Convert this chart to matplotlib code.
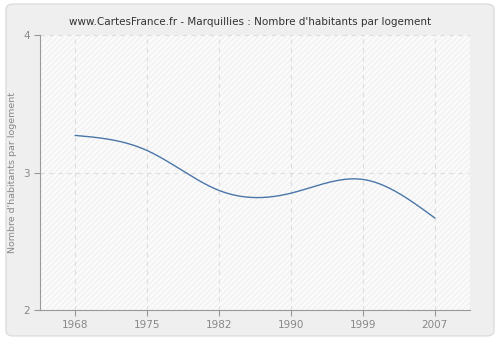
import numpy as np
import matplotlib
matplotlib.use("Agg")
import matplotlib.pyplot as plt
from matplotlib.patches import FancyBboxPatch

# données
years = ["1968", "1975", "1982", "1990", "1999", "2007"]
values = [3.27, 3.16, 2.87, 2.85, 2.95, 2.67]
y_ticks = [2, 3, 4]

title = "www.CartesFrance.fr - Marquillies : Nombre d'habitants par logement"
y_label = "Nombre d'habitants par logement"


def natural_spline(x, y, n=300):
    """courbe lissée (spline cubique naturelle)"""
    x = np.asarray(x, float)
    y = np.asarray(y, float)
    k = len(x)
    h = np.diff(x)
    A = np.zeros((k, k))
    b = np.zeros(k)
    A[0, 0] = A[-1, -1] = 1
    for i in range(1, k - 1):
        A[i, i - 1] = h[i - 1]
        A[i, i] = 2 * (h[i - 1] + h[i])
        A[i, i + 1] = h[i]
        b[i] = 3 * ((y[i + 1] - y[i]) / h[i] - (y[i] - y[i - 1]) / h[i - 1])
    c = np.linalg.solve(A, b)
    xs = np.linspace(x[0], x[-1], n)
    ys = np.empty_like(xs)
    for j, xv in enumerate(xs):
        i = min(np.searchsorted(x, xv, side="right") - 1, k - 2)
        dx = xv - x[i]
        bi = (y[i + 1] - y[i]) / h[i] - h[i] * (2 * c[i] + c[i + 1]) / 3
        di = (c[i + 1] - c[i]) / (3 * h[i])
        ys[j] = y[i] + bi * dx + c[i] * dx ** 2 + di * dx ** 3
    return xs, ys


fig = plt.figure(figsize=(5, 3.4), dpi=100)
fig.patch.set_facecolor("white")

# fond gris arrondi
bg = fig.add_axes([0, 0, 1, 1], zorder=-1)
bg.axis("off")
bg.add_patch(FancyBboxPatch((0.012, 0.012), 0.976, 0.976,
                            boxstyle="round,pad=0,rounding_size=0.015",
                            transform=bg.transAxes, facecolor="#efefef",
                            edgecolor="#dddddd", linewidth=1))

ax = fig.add_axes([0.08, 0.088, 0.86, 0.809], zorder=1)
ax.set_facecolor("#fbfbfb")
ax.add_patch(plt.Rectangle((0, 0), 1, 1, transform=ax.transAxes, facecolor="none",
                           edgecolor="#f1f1f1", hatch="//////", linewidth=0, zorder=0))

pos = np.arange(len(years))
xs, ys = natural_spline(pos, values)
ax.plot(xs, ys, color="#4a76a8", linewidth=1, zorder=3)

ax.set_xlim(-0.49, 5.49)
ax.set_ylim(2, 4)
ax.set_xticks(pos)
ax.set_xticklabels(years)
ax.set_yticks(y_ticks)
ax.grid(True, color="#dddddd", linestyle=(0, (4, 4)), linewidth=0.8)
ax.set_axisbelow(True)

for s in ["top", "right"]:
    ax.spines[s].set_visible(False)
for s in ["left", "bottom"]:
    ax.spines[s].set_color("#999999")
ax.tick_params(colors="#999999", labelcolor="#888888", labelsize=7.5, length=4, width=0.8)
ax.set_ylabel(y_label, color="#888888", fontsize=6.8, labelpad=4)

fig.text(0.5, 0.935, title, ha="center", va="center", fontsize=7.5, color="#333333")

fig.savefig("out.png", dpi=100)
